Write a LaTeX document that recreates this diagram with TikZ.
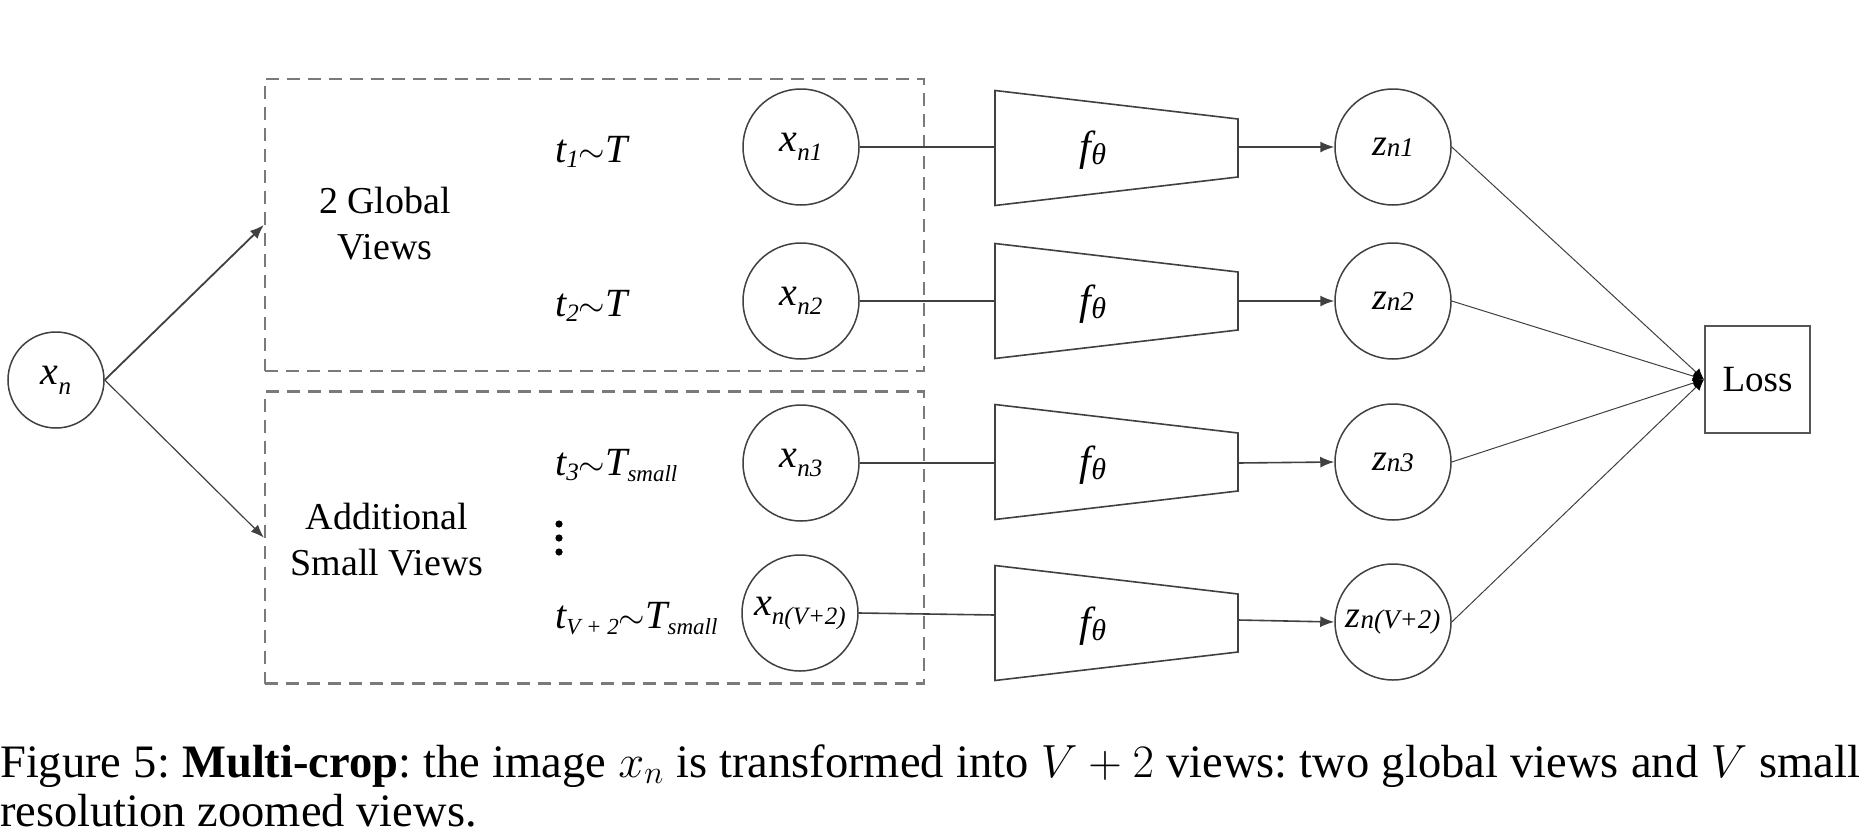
\documentclass[tikz,border=0pt]{standalone}
\usepackage{fix-cm}
\usepackage{fontspec}
\setmainfont{Liberation Serif}
\newfontfamily\capfont{Liberation Serif}
\newfontfamily\diagfont{Liberation Serif}
\usetikzlibrary{arrows.meta}
\definecolor{ln}{HTML}{404040}
\definecolor{dashc}{HTML}{7A7A7A}
\definecolor{boxc}{HTML}{555555}
\newcommand{\msub}[3]{\raisebox{-#1pt}{\fontsize{#2}{#2}\selectfont\itshape #3}}
\newcommand{\tsim}{{\fontsize{34}{34}\selectfont$\sim$}}
\frenchspacing
\begin{document}
\begin{tikzpicture}[x=1pt,y=-1pt,
  xc/.style={circle, draw=ln, line width=1.5pt, minimum size=116pt, inner sep=0pt, font=\diagfont\fontsize{40}{40}\selectfont\itshape},
  lab/.style={inner sep=0pt, font=\diagfont\fontsize{40}{40}\selectfont\itshape},
  rom/.style={inner sep=0pt, align=center, font=\diagfont\fontsize{38}{46}\selectfont},
  dbox/.style={draw=dashc, line width=2.4pt, dash pattern=on 13pt off 8pt, minimum width=659pt, minimum height=292pt, inner sep=0pt},
  conn/.style={draw=ln, line width=1.6pt},
  arr/.style={conn, -{Latex[length=14pt,width=11pt]}},
  thinarr/.style={draw=ln, line width=1pt, -{Latex[length=11pt,width=10pt,color=black]}},
  trapz/.style={draw=ln, line width=1.6pt},
  captxt/.style={inner sep=0pt, anchor=base west, font=\capfont\fontsize{46.5}{50}\selectfont}
]
\useasboundingbox (0,0) rectangle (1869,835);

% input
\node[xc, minimum size=96pt] (xn) at (56,380) {x\msub{10}{25}{n}};

% dashed boxes
\node[dbox] (gbox) at (594.5,225) {};
\node[dbox] (sbox) at (594.5,537.5) {};
\node[rom] (glab) at (385,224) {2 Global\\Views};
\node[rom] (slab) at (387,540) {Additional\\Small Views};

\draw[arr, line width=1.8pt] (xn.east) -- (gbox.west);
\draw[thinarr, line width=1.2pt, -{Latex[length=13pt,width=10pt]}] (xn.east) -- (sbox.west);

% transformation labels
\node[lab, anchor=base west] (t1) at (555,162) {t\msub{5}{25}{1}\tsim T};
\node[lab, anchor=base west] (t2) at (555,316) {t\msub{5}{25}{2}\tsim T};
\node[lab, anchor=base west] (t3) at (555,475) {t\msub{5}{25}{3}\tsim T\msub{6}{23}{small}};
\node[lab, anchor=base west] (t4) at (555,628) {t\msub{6}{23}{V + 2}\tsim T\msub{6}{23}{small}};
\fill (559,524) circle (3.6);
\fill (559,538) circle (3.6);
\fill (559,552) circle (3.6);

% views
\node[xc] (x1) at (801,147) {x\msub{9}{25}{n1}};
\node[xc] (x2) at (801,301) {x\msub{9}{25}{n2}};
\node[xc] (x3) at (801,463) {x\msub{9}{25}{n3}};
\node[xc] (x4) at (800,613) {x\msub{9}{25}{n(V+2)}};

% encoders
\draw[trapz] (995,90.5) -- (1238,119) -- (1238,177) -- (995,205.5) -- cycle;
\draw[trapz] (995,243.5) -- (1238,272) -- (1238,330) -- (995,358.5) -- cycle;
\draw[trapz] (995,404.5) -- (1238,433) -- (1238,491) -- (995,519.5) -- cycle;
\draw[trapz] (995,565.5) -- (1238,594) -- (1238,652) -- (995,680.5) -- cycle;
\coordinate (e1in) at (995,147);  \coordinate (e1out) at (1238,147);
\coordinate (e2in) at (995,301);  \coordinate (e2out) at (1238,301);
\coordinate (e3in) at (995,463);  \coordinate (e3out) at (1238,463);
\coordinate (e4in) at (995,615);  \coordinate (e4out) at (1238,620);
\node[lab, font=\diagfont\fontsize{42}{42}\selectfont\itshape] (f1) at (1093,150) {f\msub{4}{30}{θ}};
\node[lab, font=\diagfont\fontsize{42}{42}\selectfont\itshape] (f2) at (1093,304) {f\msub{4}{30}{θ}};
\node[lab, font=\diagfont\fontsize{42}{42}\selectfont\itshape] (f3) at (1093,465) {f\msub{4}{30}{θ}};
\node[lab, font=\diagfont\fontsize{42}{42}\selectfont\itshape] (f4) at (1093,626) {f\msub{4}{30}{θ}};

% embeddings
\node[xc, font=\diagfont\fontsize{38}{38}\selectfont\itshape] (z1) at (1393,147) {z\msub{1}{27}{n1}};
\node[xc, font=\diagfont\fontsize{38}{38}\selectfont\itshape] (z2) at (1393,301) {z\msub{1}{27}{n2}};
\node[xc, font=\diagfont\fontsize{38}{38}\selectfont\itshape] (z3) at (1393,462) {z\msub{1}{27}{n3}};
\node[xc, font=\diagfont\fontsize{38}{38}\selectfont\itshape] (z4) at (1393,622) {z\msub{1}{27}{n(V+2)}};

% loss
\node[draw=boxc, line width=2pt, minimum width=105pt, minimum height=107pt, inner sep=0pt, font=\diagfont\fontsize{37}{37}\selectfont] (loss) at (1757.5,379.5) {Loss};

% connectors
\draw[conn] (x1.east) -- (e1in);
\draw[conn] (x2.east) -- (e2in);
\draw[conn] (x3.east) -- (e3in);
\draw[conn] (x4.east) -- (e4in);
\draw[arr] (e1out) -- (z1.west);
\draw[arr] (e2out) -- (z2.west);
\draw[arr] (e3out) -- (z3.west);
\draw[arr] (e4out) -- (z4.west);
\draw[thinarr] (z1.east) -- (loss.west);
\draw[thinarr] (z2.east) -- (loss.west);
\draw[thinarr] (z3.east) -- (loss.west);
\draw[thinarr] (z4.east) -- (loss.west);

% caption
\node[captxt] (cap1) at (0,777) {\makebox[1860pt][s]{Figure 5: \textbf{Multi-crop}: the image $x_n$ is transformed into $V+2$ views: two global views and $V$ small}};
\node[captxt] (cap2) at (0,826) {resolution zoomed views.};
\end{tikzpicture}
\end{document}
